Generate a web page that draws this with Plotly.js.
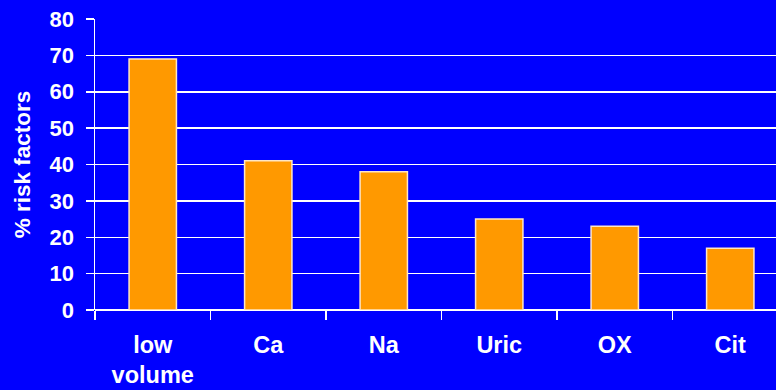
<!DOCTYPE html>
<html>
<head>
<meta charset="utf-8">
<script src="https://cdn.plot.ly/plotly-3.0.1.min.js"></script>
<style>
  html, body { margin: 0; padding: 0; background: #0000FF; }
  #chart { width: 776px; height: 390px; }
</style>
</head>
<body>
<div id="chart"></div>
<script>
// Urinary risk factors: share of patients with each abnormality (%)
const categories = ["low<br>volume", "Ca", "Na", "Uric", "OX", "Cit"];
const riskPercent = [69, 41, 38, 25, 23, 17];
const yTicks = [0, 10, 20, 30, 40, 50, 60, 70, 80];

const font = { family: "Liberation Sans, Arial, sans-serif", color: "#FFFFFF", weight: 700 };

const trace = {
  type: "bar",
  x: categories,
  y: riskPercent,
  width: 0.41,
  marker: { color: "#FF9900", line: { color: "#FFE6C4", width: 1.5 } },
  hoverinfo: "skip"
};

const layout = {
  width: 776,
  height: 390,
  margin: { l: 95, r: 0, t: 19, b: 80, pad: 0 },
  paper_bgcolor: "#0000FF",
  plot_bgcolor: "#0000FF",
  showlegend: false,
  bargap: 0.59,
  xaxis: {
    type: "category",
    range: [-0.5, 5.396],
    showgrid: false,
    showline: false,
    zeroline: false,
    ticks: "outside",
    tickson: "boundaries",
    ticklen: 9,
    tickwidth: 1.5,
    tickcolor: "#FFFFFF",
    tickfont: Object.assign({}, font, { size: 23.5 }),
    ticklabelstandoff: 18
  },
  yaxis: {
    range: [0, 80],
    tickvals: yTicks,
    ticktext: yTicks.map(String),
    showgrid: true,
    gridcolor: "#FFFFFF",
    gridwidth: 1.5,
    showline: true,
    linecolor: "#FFFFFF",
    linewidth: 1.5,
    zeroline: true,
    zerolinecolor: "#FFFFFF",
    zerolinewidth: 1.5,
    ticks: "outside",
    ticklen: 8,
    tickwidth: 1.5,
    tickcolor: "#FFFFFF",
    tickfont: Object.assign({}, font, { size: 22 }),
    ticklabelstandoff: 7,
    title: { text: "% risk factors", font: Object.assign({}, font, { size: 22.5 }), standoff: 12 }
  }
};

Plotly.newPlot("chart", [trace], layout, { staticPlot: true, displayModeBar: false });
</script>
</body>
</html>
